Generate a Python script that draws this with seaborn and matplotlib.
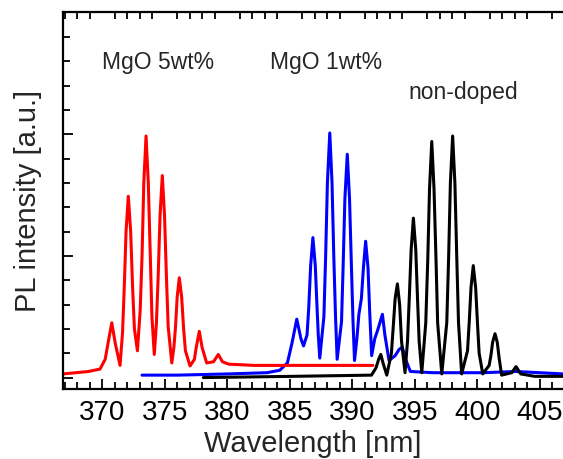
import seaborn as sns
import matplotlib.pyplot as plt
from matplotlib.ticker import MultipleLocator, NullFormatter
import pandas as pd

# --- data (wavelength nm, intensity a.u.) ---
red_wl = [366.85, 367.87, 368.89, 369.81, 370.22, 370.48, 370.75, 371.03, 371.41,
          371.61, 371.75, 371.89, 372.07, 372.26, 372.41, 372.56, 372.80,
          373.02, 373.17, 373.31, 373.49, 373.67, 373.83, 373.96, 374.15,
          374.32, 374.46, 374.61, 374.79, 374.97, 375.12, 375.26, 375.55,
          375.72, 375.85, 375.98, 376.15, 376.34, 376.49, 376.64, 377.01,
          377.36, 377.51, 377.75, 377.97, 378.34,
          378.89, 379.27, 379.60, 380.11, 382.15, 385.21, 388.27, 391.64]
red_int = [0.03, 0.04, 0.05, 0.07, 0.15, 0.30, 0.45, 0.28, 0.10,
           0.37, 0.75, 1.20, 1.49, 1.20, 0.75, 0.40, 0.22,
           0.55, 1.00, 1.60, 1.985, 1.60, 1.00, 0.50, 0.19,
           0.45, 0.83, 1.33, 1.66, 1.33, 0.83, 0.42, 0.12,
           0.25, 0.42, 0.66, 0.82, 0.66, 0.41, 0.22, 0.095,
           0.15, 0.25, 0.38, 0.25, 0.12,
           0.13, 0.19, 0.13, 0.11, 0.10, 0.10, 0.10, 0.10]

blue_wl = [373.17, 376.03, 380.11, 383.17, 384.19, 384.80, 385.16, 385.55, 385.88, 386.09,
           386.37, 386.51, 386.66, 386.84, 387.03, 387.17, 387.27, 387.39,
           387.72, 387.86, 388.00, 388.19, 388.37, 388.51, 388.65, 388.78,
           389.13, 389.26, 389.40, 389.59, 389.77, 389.92, 390.05, 390.17,
           390.36, 390.52, 390.72, 390.88, 391.06, 391.25, 391.38, 391.54,
           391.79, 391.99, 392.20, 392.40, 392.60, 392.93, 393.42, 393.73, 393.99,
           394.29, 394.64, 396.43, 400.51, 403.06, 406.85]
blue_int = [0.02, 0.02, 0.03, 0.04, 0.06, 0.12, 0.28, 0.48, 0.32, 0.26,
            0.35, 0.58, 0.92, 1.15, 0.92, 0.58, 0.35, 0.16,
            0.50, 1.00, 1.60, 2.01, 1.60, 1.00, 0.50, 0.15,
            0.46, 0.92, 1.47, 1.835, 1.47, 0.92, 0.46, 0.14,
            0.32, 0.52, 0.65, 0.90, 1.12, 0.90, 0.55, 0.18,
            0.32, 0.38, 0.45, 0.52, 0.35, 0.14, 0.18, 0.23, 0.25,
            0.14, 0.05, 0.04, 0.04, 0.05, 0.03]

black_wl = [378.07, 385.21, 391.53, 391.89, 392.10, 392.27, 392.45, 392.75,
            393.12, 393.27, 393.42, 393.60, 393.78, 393.93, 394.21,
            394.41, 394.55, 394.70, 394.88, 395.07, 395.21, 395.34, 395.55,
            395.87, 396.03, 396.17, 396.35, 396.53, 396.69, 396.82, 397.15,
            397.55, 397.70, 397.84, 398.02, 398.20, 398.35, 398.49, 398.74,
            399.21, 399.35, 399.49, 399.67, 399.86, 400.00, 400.14, 400.43,
            400.94, 401.08, 401.22, 401.41, 401.59, 401.74, 401.94,
            402.75, 403.09, 403.47, 404.59, 406.85]
black_int = [0.0, 0.01, 0.02, 0.08, 0.15, 0.19, 0.12, 0.02,
             0.20, 0.42, 0.65, 0.77, 0.60, 0.30, 0.04,
             0.30, 0.65, 1.05, 1.31, 1.05, 0.65, 0.30, 0.04,
             0.45, 0.97, 1.55, 1.94, 1.55, 0.97, 0.45, 0.03,
             0.45, 0.99, 1.60, 1.985, 1.60, 0.99, 0.45, 0.03,
             0.22, 0.46, 0.74, 0.92, 0.74, 0.46, 0.20, 0.03,
             0.10, 0.18, 0.29, 0.36, 0.29, 0.16, 0.02,
             0.04, 0.09, 0.03, 0.01, 0.01]

labels = ["MgO 1wt%", "MgO 5wt%", "non-doped"]
colors = {"MgO 5wt%": "#ff0000", "MgO 1wt%": "#0000ff", "non-doped": "#000000"}

df = pd.concat([
    pd.DataFrame({"wl": blue_wl, "I": blue_int, "sample": "MgO 1wt%"}),
    pd.DataFrame({"wl": red_wl, "I": red_int, "sample": "MgO 5wt%"}),
    pd.DataFrame({"wl": black_wl, "I": black_int, "sample": "non-doped"}),
])

sns.set_style("ticks")
plt.rcParams['font.family'] = ['Liberation Sans', 'DejaVu Sans']

fig = plt.figure(figsize=(5.63, 4.59), dpi=100)
ax = fig.add_axes([0.112, 0.1525, 0.888, 0.8203])

sns.lineplot(data=df, x="wl", y="I", hue="sample", hue_order=labels,
             palette=colors, estimator=None, sort=False, linewidth=2.2,
             legend=False, ax=ax)

ax.set_xlim(366.85, 406.85)
ax.set_ylim(-0.094, 3.0)

# ticks: inward, minor on top as well, no y labels
ax.xaxis.set_major_locator(MultipleLocator(5))
ax.xaxis.set_minor_locator(MultipleLocator(1))
ax.yaxis.set_major_locator(MultipleLocator(1))
ax.yaxis.set_minor_locator(MultipleLocator(0.2))
ax.yaxis.set_major_formatter(NullFormatter())
ax.tick_params(axis='both', which='both', direction='in', width=1.3, colors='black')
ax.tick_params(axis='x', which='major', length=7, labelsize=20, pad=8, top=False)
ax.tick_params(axis='x', which='minor', length=5, top=True)
ax.tick_params(axis='y', which='major', length=7, right=False)
ax.tick_params(axis='y', which='minor', length=5, right=False)

for side in ['left', 'bottom', 'top']:
    ax.spines[side].set_linewidth(1.6)
    ax.spines[side].set_color('black')
ax.spines['right'].set_visible(False)

ax.set_xlabel("Wavelength [nm]", fontsize=21, labelpad=3)
ax.set_ylabel("PL intensity [a.u.]", fontsize=21, labelpad=12)

ax.text(369.97, 2.59, "MgO 5wt%", fontsize=16.5, ha='left', va='center')
ax.text(383.41, 2.59, "MgO 1wt%", fontsize=16.5, ha='left', va='center')
ax.text(394.45, 2.34, "non-doped", fontsize=16.5, ha='left', va='center')

fig.savefig("out.png", dpi=100)
